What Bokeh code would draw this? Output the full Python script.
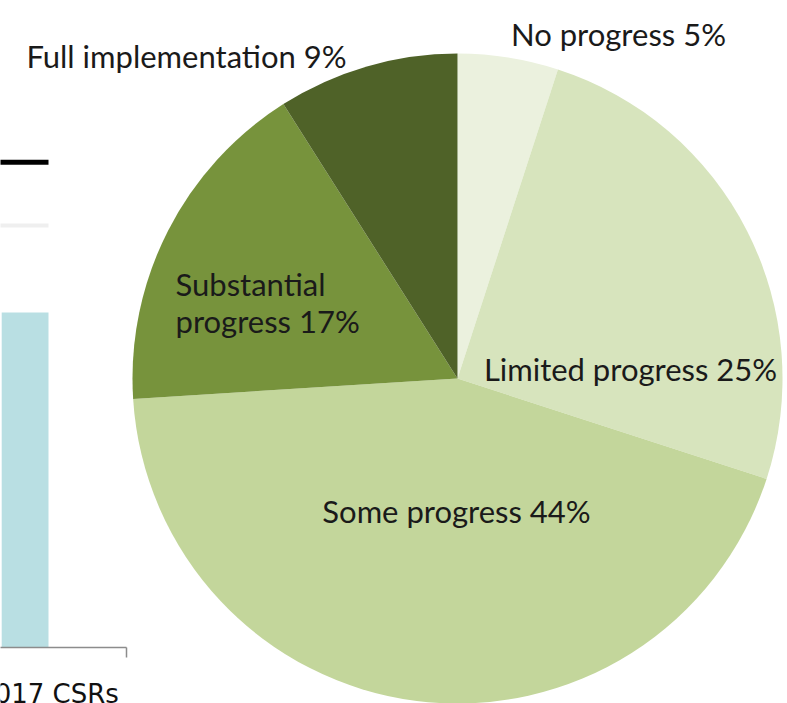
import math
from bokeh.plotting import figure
from bokeh.models import Range1d
from bokeh.core.properties import value
from bokeh.embed import file_html
from bokeh.resources import INLINE

# ---------------- data ----------------
# Pie: share of CSRs by implementation progress (clockwise from 12 o'clock)
pie_categories = ["No progress", "Limited progress", "Some progress",
                  "Substantial progress", "Full implementation"]
pie_shares = [5, 25, 44, 17, 9]
pie_labels = ["No progress 5%", "Limited progress 25%", "Some progress 44%",
              "Substantial\nprogress 17%", "Full implementation 9%"]

# Fragment of the bar chart visible at the left edge
bar_categories = ["2017 CSRs"]
bar_values = [63.5]
line_values = [92]
grid_values = [80]

# ---------------- style ----------------
slice_colors = ["#EBF1DE", "#D7E4BD", "#C3D69B", "#77933C", "#4F6228"]
bar_color = "#B9DFE3"
label_font = "Lato"
label_size = 31
text_color = "#1a1a1a"

W, H = 787, 703
CX, CY, R = 457, 378, 325          # pie centre / radius in pixels

p = figure(width=W, height=H, output_backend="svg", toolbar_location=None,
           x_range=Range1d(-CX / R, (W - CX) / R),
           y_range=Range1d(-(H - CY) / R, CY / R),
           x_axis_type=None, y_axis_type=None, min_border=0,
           background_fill_color="white", border_fill_color="white")
p.outline_line_color = None
p.grid.visible = False

# ---- bar chart fragment (own scales) ----
BASE_PY = 647          # pixel row of value 0
PPU = 5.275            # pixels per value unit
CAT_PX, CAT_W = 48, 156
p.extra_y_ranges = {"by": Range1d(-(H - BASE_PY) / PPU, BASE_PY / PPU)}
p.extra_x_ranges = {"bx": Range1d(-CAT_PX / CAT_W, (W - CAT_PX) / CAT_W)}
idx = list(range(len(bar_categories)))

p.segment(x0=[i - 0.5 for i in idx], x1=idx, y0=grid_values, y1=grid_values,
          line_color="#EFEFEF", line_width=4, x_range_name="bx", y_range_name="by")
p.vbar(x=[i - 0.15 for i in idx], top=bar_values, bottom=0, width=0.3,
       fill_color=bar_color, line_color=None, x_range_name="bx", y_range_name="by")
p.segment(x0=[i - 0.5 for i in idx], x1=idx, y0=line_values, y1=line_values,
          line_color="black", line_width=5, x_range_name="bx", y_range_name="by")
# category axis line and end tick
n = len(bar_categories)
p.segment(x0=[-0.5], x1=[n - 0.5], y0=[0], y1=[0], line_color="#8C8C8C",
          line_width=1.5, x_range_name="bx", y_range_name="by")
p.segment(x0=[n - 0.5], x1=[n - 0.5], y0=[0], y1=[-10 / PPU], line_color="#8C8C8C",
          line_width=1.5, x_range_name="bx", y_range_name="by")
p.text(x=idx, y=[0] * n, text=bar_categories, y_offset=46,
       text_align="center", text_baseline="alphabetic",
       text_font=value("DejaVu Sans"), text_font_size="26px", text_color="#111111",
       x_range_name="bx", y_range_name="by")

# ---- pie ----
total = sum(pie_shares)
starts, ends, cum = [], [], 0.0
for s in pie_shares:
    starts.append(math.pi / 2 - 2 * math.pi * cum / total)
    cum += s
    ends.append(math.pi / 2 - 2 * math.pi * cum / total)
p.wedge(x=0, y=0, radius=1, start_angle=starts, end_angle=ends, direction="clock",
        fill_color=slice_colors, line_color=None)

# ---- pie labels (pixel anchors: x, first baseline, align) ----
label_anchor = [(618, 33, "center"), (630, 368, "center"), (456, 510, "center"),
                (175, 283, "left"), (186, 55, "center")]
LINE_GAP = 37
lx, ly, lt, la = [], [], [], []
for lab, (ax, ay, al) in zip(pie_labels, label_anchor):
    for k, line in enumerate(lab.split("\n")):
        lx.append((ax - CX) / R)
        ly.append((CY - (ay + k * LINE_GAP)) / R)
        lt.append(line)
        la.append(al)
for al in ("center", "left"):
    sel = [i for i in range(len(lt)) if la[i] == al]
    p.text(x=[lx[i] for i in sel], y=[ly[i] for i in sel], text=[lt[i] for i in sel],
           text_align=al, text_baseline="alphabetic",
           text_font=value(label_font), text_font_size=f"{label_size}px",
           text_color=text_color)

open("out.html", "w").write(file_html(p, INLINE))
